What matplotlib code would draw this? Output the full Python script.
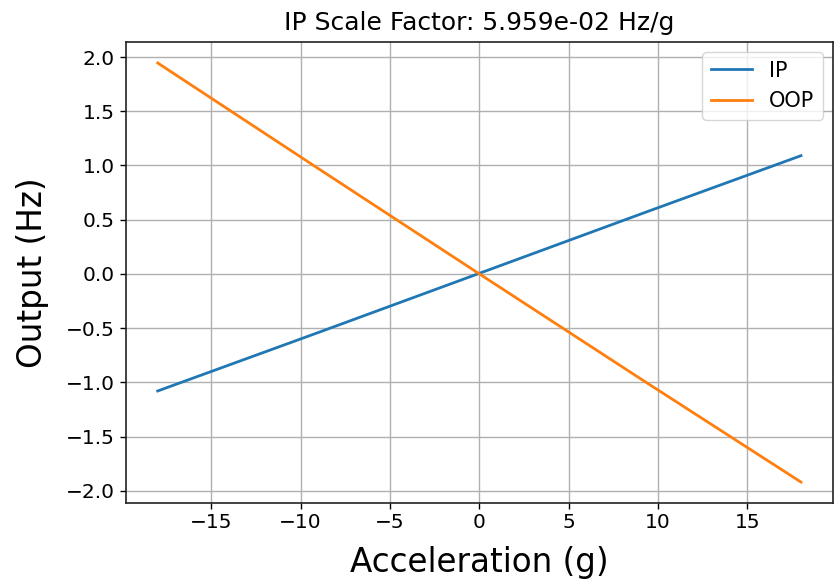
import matplotlib
matplotlib.use('Agg')
import matplotlib.pyplot as plt
import numpy as np

# acceleration sweep (g) and measured outputs (Hz)
accel = [-18, -9, 0, 9, 18]
ip_output = [-1.08, -0.54, 0.005, 0.55, 1.09]
oop_output = [1.945, 0.97, 0.0, -0.965, -1.92]
scale_factor = 5.959e-02

fig = plt.figure(figsize=(8.38, 5.86), dpi=100)
ax = fig.add_axes([0.1498, 0.1416, 0.8444, 0.7867])

ax.plot(accel, ip_output, color='#1f77b4', linewidth=2.0, label='IP')
ax.plot(accel, oop_output, color='#ff7f0e', linewidth=2.0, label='OOP')

ax.set_xticks([-15, -10, -5, 0, 5, 10, 15])
ax.set_yticks(np.arange(-2.0, 2.01, 0.5))
ax.grid(True, color='#b0b0b0', linewidth=1.0)
ax.tick_params(labelsize=14.5, length=4, width=1.0)
for sp in ax.spines.values():
    sp.set_linewidth(1.2)
    sp.set_color('#222222')

ax.set_title('IP Scale Factor: %.3e Hz/g' % scale_factor, fontsize=18, pad=9)
ax.set_xlabel('Acceleration (g)', fontsize=23.5, labelpad=10)
ax.set_ylabel('Output (Hz)', fontsize=23.5, labelpad=12)
ax.legend(loc='upper right', fontsize=15)

fig.savefig('out.png', dpi=100)
